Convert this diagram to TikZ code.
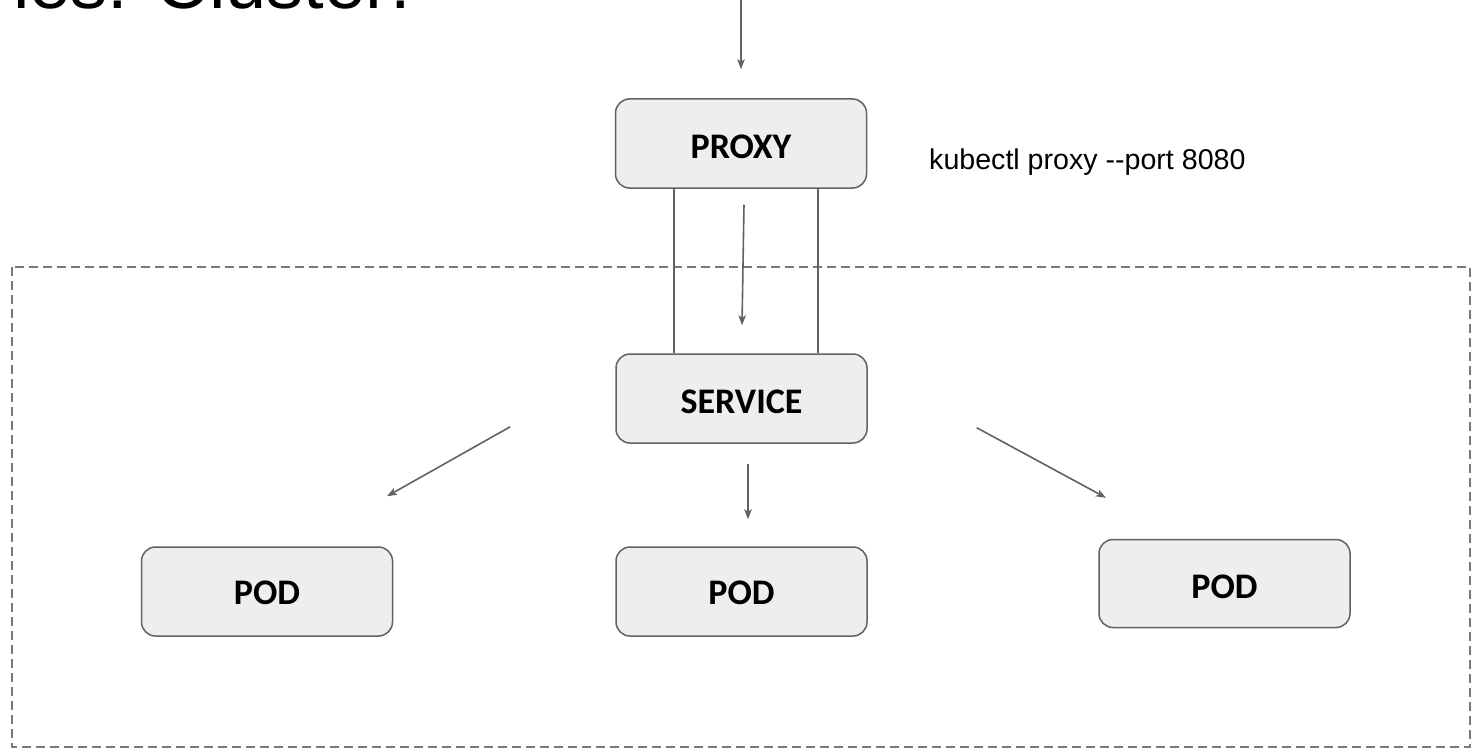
\documentclass[tikz,border=0pt]{standalone}
\usepackage{fontspec}
\setmainfont{Liberation Sans}
\newfontfamily\boxfont{Carlito}
\usetikzlibrary{arrows.meta,calc}
\definecolor{edge}{HTML}{616161}
\definecolor{boxfill}{HTML}{EEEEEE}
\tikzset{
  box/.style={draw=edge, fill=boxfill, line width=1.5pt, rounded corners=14pt,
    minimum width=251pt, minimum height=89pt, inner sep=0pt, text=black,
    text height=29pt, text depth=0pt,
    font=\boxfont\bfseries\fontsize{36}{40}\selectfont},
  flow/.style={draw=edge, line width=1.6pt, -{Stealth[length=10pt,width=7.5pt,inset=2.5pt]}},
  link/.style={draw=edge, line width=1.6pt},
  frame/.style={draw=edge!85, line width=1.4pt, dash pattern=on 9pt off 5pt}
}
\begin{document}
\begin{tikzpicture}[x=1pt,y=-1pt]
\useasboundingbox (0,0) rectangle (1472,749);

% heading running off the top edge
\begin{scope}
  \clip (0,0) rectangle (1472,749);
  \node[anchor=base west, inner sep=0pt, font=\fontsize{74}{80}\selectfont] (title) at (13,9) {ies: Cluster:};
\end{scope}

% cluster boundary
\draw[frame] (12,267) rectangle (1470,747);

% components
\node[box] (proxy) at (741,143.5) {PROXY};
\node[box] (service) at (741.5,398.5) {SERVICE};
\node[box, text height=26pt] (podL) at (267,591.5) {POD};
\node[box, text height=26pt] (podM) at (741.5,591.5) {POD};
\node[box, minimum height=88pt, text height=30pt] (podR) at (1224.5,583.5) {POD};

\node[anchor=west, inner sep=0pt, font=\fontsize{28.6}{32}\selectfont] (cmd) at (929,162) {kubectl proxy -{}-port 8080};

% tunnel walls between proxy and service
\draw[link] ([xshift=-67pt]proxy.south) -- ([xshift=-67.5pt]service.north);
\draw[link] ([xshift=77pt]proxy.south) -- ([xshift=76.5pt]service.north);

% request flow
\coordinate (in) at (741,0);
\draw[flow] (in) -- ($(proxy.north)+(0,-29)$);
\draw[flow] ($(proxy.south)+(3,16)$) -- ($(service.north)+(0.5,-28)$);
\draw[flow] ($(service.south west)+(-105,-17)$) -- ($(podL.north)+(120,-50)$);
\draw[flow] ($(service.south)+(6.5,20)$) -- ($(podM.north)+(6.5,-27)$);
\draw[flow] ($(service.south east)+(109,-16)$) -- ($(podR.north)+(-118.5,-41)$);
\end{tikzpicture}
\end{document}
